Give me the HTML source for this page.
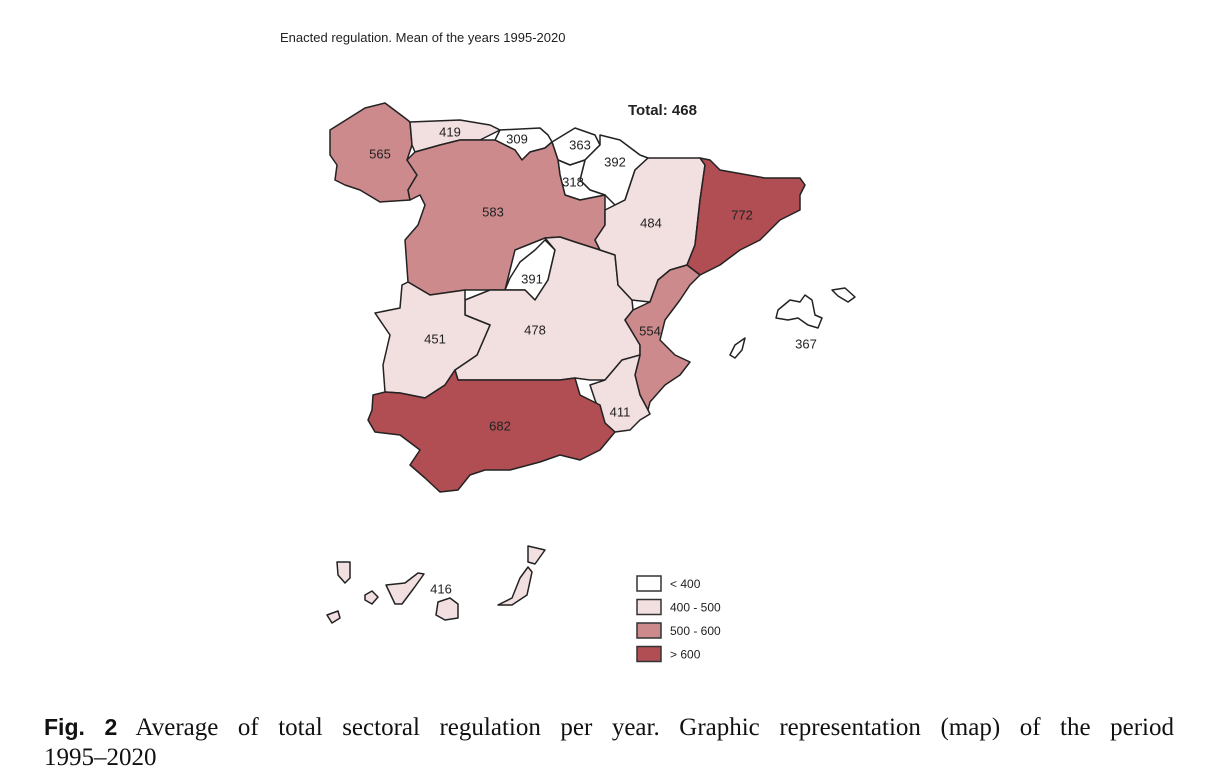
<!DOCTYPE html>
<html><head><meta charset="utf-8"><style>
body{margin:0;background:#fff;width:1215px;height:780px;overflow:hidden;position:relative;font-family:"Liberation Sans",sans-serif}
.cap{position:absolute;left:44px;font-family:"Liberation Serif",serif;font-size:25px;color:#111}
</style></head><body>
<div style="position:absolute;left:280px;top:30px;font-size:13px;color:#222">Enacted regulation. Mean of the years 1995-2020</div>
<svg id="map" width="1215" height="700" style="position:absolute;left:0;top:0">
<text x="628" y="115" font-size="15" font-weight="bold" fill="#222">Total: 468</text>
</svg>
<div class="cap" style="top:714px;width:1130px;text-align:justify;text-align-last:justify"><b style="font-family:'Liberation Sans',sans-serif;font-size:23px">Fig. 2</b> Average of total sectoral regulation per year. Graphic representation (map) of the period</div>
<div class="cap" style="top:744px">1995–2020</div>
<script>
const regions=["Galicia","Asturias","Cantabria","Pais Vasco","Navarra","La Rioja","Castilla y Leon","Madrid","Castilla-La Mancha","Aragon","Cataluna","Valencia","Murcia","Extremadura","Andalucia","Baleares","Canarias"];
const values=[565,419,309,363,392,318,583,391,478,484,772,554,411,451,682,367,416];
const classLabels=["< 400","400 - 500","500 - 600","> 600"];
const classBreaks=[400,500,600];
const classColors=["#ffffff","#f2dfe0","#cc8a8c","#b04e53"];
const shapes=[
[[[330,130],[365,108],[385,103],[405,118],[410,122],[412,145],[407,160],[417,175],[408,190],[410,200],[380,202],[360,190],[345,185],[335,180],[337,165],[330,155]]],
[[[410,122],[460,120],[490,125],[500,130],[480,140],[460,140],[440,145],[415,152],[412,145]]],
[[[500,130],[540,128],[548,135],[552,142],[545,148],[530,152],[522,160],[515,150],[495,140]]],
[[[552,142],[575,128],[595,135],[600,145],[585,160],[570,165],[558,160]]],
[[[600,135],[620,140],[640,155],[648,158],[635,170],[625,200],[615,205],[605,195],[590,190],[580,180],[585,160],[600,145]]],
[[[558,160],[570,165],[585,160],[580,180],[590,190],[605,195],[580,200],[565,195],[560,175]]],
[[[415,152],[440,145],[460,140],[495,140],[515,150],[522,160],[530,152],[545,148],[552,142],[558,160],[560,175],[565,195],[580,200],[605,195],[605,210],[605,225],[595,240],[600,250],[575,242],[560,237],[545,238],[515,250],[505,290],[490,290],[465,290],[430,295],[408,282],[405,240],[418,225],[425,205],[420,195],[410,200],[408,190],[417,175],[407,160]]],
[[[505,290],[510,278],[520,262],[535,250],[545,240],[555,250],[548,280],[535,300],[525,290]]],
[[[545,238],[560,237],[575,242],[600,250],[615,255],[618,285],[632,300],[633,310],[625,320],[640,345],[640,355],[622,360],[605,380],[590,380],[575,378],[560,380],[458,380],[455,370],[477,355],[490,325],[465,315],[465,300],[490,290],[505,290],[525,290],[535,300],[548,280],[555,250]]],
[[[648,158],[700,158],[705,165],[700,200],[695,245],[687,265],[670,270],[658,280],[650,302],[632,300],[618,285],[615,255],[600,250],[595,240],[605,225],[605,210],[615,205],[625,200],[635,170]]],
[[[700,158],[710,160],[720,170],[765,178],[800,178],[805,185],[800,195],[800,210],[780,220],[760,240],[740,250],[720,265],[710,270],[700,275],[687,265],[695,245],[700,200],[705,165]]],
[[[687,265],[700,275],[690,285],[680,300],[665,320],[660,340],[675,355],[690,362],[680,375],[665,385],[650,402],[648,410],[640,395],[635,375],[640,355],[640,345],[625,320],[633,310],[650,302],[658,280],[670,270]]],
[[[622,360],[640,355],[635,375],[640,395],[648,410],[650,414],[640,420],[630,430],[615,432],[605,423],[595,400],[590,385],[605,380]]],
[[[408,282],[430,295],[465,290],[465,300],[465,315],[490,325],[477,355],[455,370],[445,385],[425,398],[400,393],[385,392],[383,365],[390,335],[375,313],[400,308],[402,285]]],
[[[373,395],[385,392],[400,393],[425,398],[445,385],[455,370],[458,380],[560,380],[575,378],[580,395],[590,400],[600,405],[605,423],[615,432],[600,450],[580,460],[560,455],[540,462],[510,470],[485,470],[470,475],[458,490],[440,492],[425,478],[410,465],[420,450],[400,435],[375,432],[368,420],[372,410]]],
[[[778,310],[790,300],[800,302],[805,295],[812,300],[815,315],[822,318],[818,328],[808,325],[798,318],[788,320],[776,318]],[[832,290],[845,288],[855,297],[848,302],[838,296]],[[730,355],[735,345],[745,338],[742,350],[735,358]]],
[[[337,562],[350,562],[350,578],[345,583],[338,575]],[[327,615],[338,611],[340,618],[332,623]],[[365,595],[372,591],[378,597],[372,604],[365,600]],[[386,585],[405,583],[418,573],[424,574],[414,588],[402,604],[395,604]],[[438,602],[450,598],[458,604],[458,618],[445,620],[436,615]],[[498,605],[512,598],[520,578],[528,567],[532,572],[527,595],[512,605]],[[528,546],[545,550],[535,564],[528,562]]]
];
const labelPos=[[380,155],[450,133],[517,140],[580,146],[615,163],[573,183],[493,213],[532,280],[535,331],[651,224],[742,216],[650,332],[620,413],[435,340],[500,427],[806,345],[441,590]];
const svg=document.getElementById('map');
const NS='http://www.w3.org/2000/svg';
function colorFor(v){let i=0;while(i<classBreaks.length&&v>=classBreaks[i])i++;return classColors[i];}
regions.forEach((r,i)=>{
  shapes[i].forEach(poly=>{
    const p=document.createElementNS(NS,'polygon');
    p.setAttribute('points',poly.map(q=>q.join(',')).join(' '));
    p.setAttribute('fill',colorFor(values[i]));
    p.setAttribute('stroke','#222');p.setAttribute('stroke-width','1.5');p.setAttribute('stroke-linejoin','round');
    
    
    svg.appendChild(p);
  });
});
regions.forEach((r,i)=>{
  const t=document.createElementNS(NS,'text');
  t.setAttribute('x',labelPos[i][0]);t.setAttribute('y',labelPos[i][1]);
  t.setAttribute('text-anchor','middle');t.setAttribute('dominant-baseline','middle');
  t.setAttribute('font-size','13');t.setAttribute('fill','#222');
  t.textContent=values[i];
  
  
  svg.appendChild(t);
});
classLabels.forEach((l,i)=>{
  const y=576+i*23.5;
  const b=document.createElementNS(NS,'rect');
  b.setAttribute('x',637);b.setAttribute('y',y);b.setAttribute('width',24);b.setAttribute('height',15);
  b.setAttribute('fill',classColors[i]);b.setAttribute('stroke','#333');b.setAttribute('stroke-width','1.5');
  
  
  svg.appendChild(b);
  const t=document.createElementNS(NS,'text');
  t.setAttribute('x',670);t.setAttribute('y',y+12);t.setAttribute('font-size','12');t.setAttribute('fill','#222');
  t.textContent=l;
  
  
  svg.appendChild(t);
});
</script>
</body></html>
